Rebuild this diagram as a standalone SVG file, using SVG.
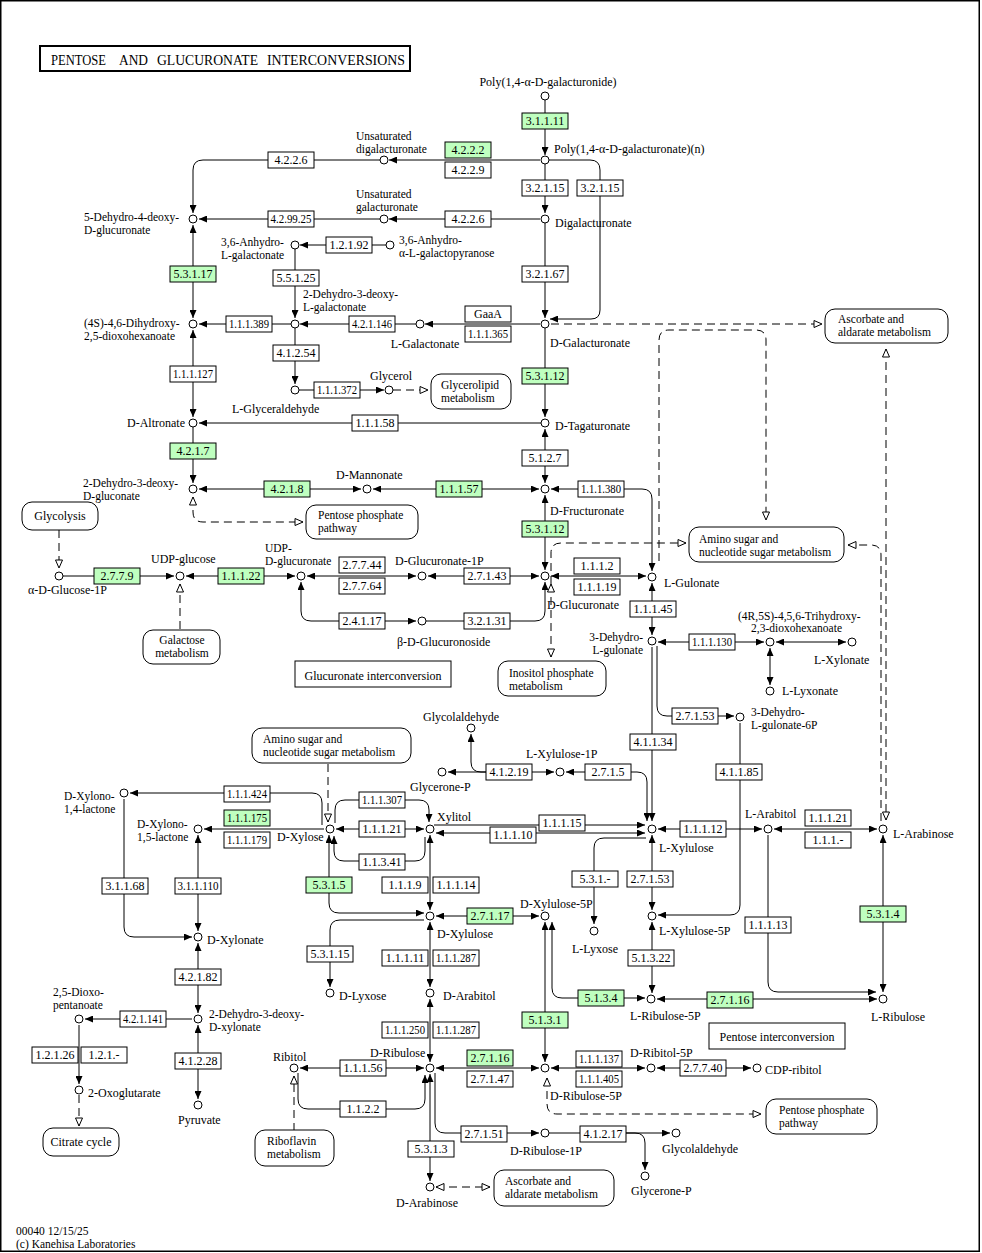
<svg xmlns="http://www.w3.org/2000/svg" width="982" height="1253" viewBox="0 0 982 1253">
<style>
text{font-family:"Liberation Serif","Times New Roman",serif;font-size:12px;fill:#000}
.ml{font-size:11.5px}
.e rect{fill:#fff;stroke:#000;stroke-width:1}
.g rect{fill:#bfffbf}
.e text{text-anchor:middle}
.c circle{fill:#fff;stroke:#000;stroke-width:1}
.m rect{fill:#fff;stroke:#000;stroke-width:1}
.ln path{fill:none;stroke:#000;stroke-width:1}
.ln .d{stroke-dasharray:8,5}
.f{marker-end:url(#a)}
.b{marker-start:url(#a);marker-end:url(#a)}
.of{marker-end:url(#o)}
.ob{marker-start:url(#o);marker-end:url(#o)}
.mid{text-anchor:middle}
.end{text-anchor:end}
.tt{font-size:14.5px}
</style>
<defs>
<marker id="a" viewBox="0 0 8 7" refX="8" refY="3.5" markerWidth="8" markerHeight="7" markerUnits="userSpaceOnUse" orient="auto-start-reverse"><path d="M0,0L8,3.5L0,7z" fill="#000"/></marker>
<marker id="o" viewBox="-1 -1 10 9" refX="8" refY="3.5" markerWidth="10" markerHeight="9" markerUnits="userSpaceOnUse" orient="auto-start-reverse"><path d="M0,0L8,3.5L0,7z" fill="#fff" stroke="#000" stroke-width="1"/></marker>
</defs>
<rect x="0.75" y="0.75" width="978.5" height="1250.5" fill="#fff" stroke="#000" stroke-width="1.5"/>
<g id="title"><rect x="40" y="46" width="370" height="25" fill="#fff" stroke="#000" stroke-width="2"/>
<text class="tt" x="51" y="65" textLength="55" lengthAdjust="spacingAndGlyphs">PENTOSE</text>
<text class="tt" x="119" y="65" textLength="29" lengthAdjust="spacingAndGlyphs">AND</text>
<text class="tt" x="157" y="65" textLength="101" lengthAdjust="spacingAndGlyphs">GLUCURONATE</text>
<text class="tt" x="267" y="65" textLength="138" lengthAdjust="spacingAndGlyphs">INTERCONVERSIONS</text></g>

<g id="connectors" class="ln">
<path class="f" d="M545,100V155"/>
<path class="f" d="M540,160H389"/>
<path class="f" d="M380,160H203Q193,160 193,170V213"/>
<path class="f" d="M549,160H590Q600,160 600,170V310Q600,319 591,319H550"/>
<path class="f" d="M545,164V213"/>
<path class="f" d="M540,219H389"/>
<path class="f" d="M380,219H199"/>
<path class="f" d="M386,245H300"/>
<path class="b" d="M193,225V318"/>
<path class="f" d="M295,249V318"/>
<path class="f" d="M545,223V318"/>
<path class="f" d="M540,324H425"/>
<path class="f" d="M416,324H300"/>
<path class="f" d="M291,324H199"/>
<path class="f" d="M295,328V384"/>
<path class="f" d="M299,390H384"/>
<path class="d of" d="M393,390H428"/>
<path class="b" d="M193,330V417"/>
<path class="f" d="M545,328V417"/>
<path class="f" d="M541,423H199"/>
<path class="f" d="M193,427V483"/>
<path class="b" d="M545,429V483"/>
<path class="b" d="M539,489H373"/>
<path class="b" d="M361,489H199"/>
<path class="b" d="M551,489H642Q652,489 652,499V571"/>
<path class="b" d="M545,495V570"/>
<path class="d ob" d="M193,497V512Q193,522 203,522H303"/>
<path class="b" d="M551,576H646"/>
<path class="b" d="M428,576H539"/>
<path class="b" d="M416,576H307"/>
<path class="b" d="M295,576H186"/>
<path class="f" d="M63,576H174"/>
<path class="d of" d="M59,530V568"/>
<path class="d of" d="M180,629V584"/>
<path class="b" d="M301,582V611Q301,621 311,621H416"/>
<path class="f" d="M426,621H535Q545,621 545,611V582"/>
<path class="d of" d="M551,584V553Q551,543 561,543H686"/>
<path class="d ob" d="M551,584V657"/>
<path class="d of" d="M551,324H822"/>
<path class="d of" d="M659,561V340Q659,330 669,330H756Q766,330 766,340V520"/>
<path class="d of" d="M881,821V555Q881,545 871,545H848"/>
<path class="d ob" d="M886,349V820"/>
<path class="b" d="M652,583V635"/>
<path class="b" d="M658,642H764"/>
<path class="b" d="M776,642H846"/>
<path class="b" d="M770,648V685"/>
<path class="f" d="M657,646V706Q657,716 667,716H734"/>
<path class="f" d="M652,647V821"/>
<path class="f" d="M740,723V905Q740,915 730,915H658"/>
<path class="b" d="M647,821V782Q647,772 637,772H566"/>
<path class="b" d="M554,772H448"/>
<path class="f" d="M500,772H481Q471,772 471,762V734"/>
<path class="b" d="M336,829H424"/>
<path class="f" d="M335,823V810Q335,800 345,800H419Q429,800 429,810V822"/>
<path class="f" d="M425,837V851Q425,861 415,861H344Q334,861 334,851V836"/>
<path class="f" d="M434,825H645"/>
<path class="b" d="M436,833H645"/>
<path class="f" d="M646,838H604Q594,838 594,848V924"/>
<path class="b" d="M658,829H762"/>
<path class="b" d="M774,829H877"/>
<path class="b" d="M652,835V910"/>
<path class="b" d="M883,835V992"/>
<path class="f" d="M768,835V982Q768,992 778,992H876"/>
<path class="b" d="M652,922V993"/>
<path class="b" d="M657,999H877"/>
<path class="b" d="M645,998H562Q552,998 552,988V922"/>
<path class="b" d="M545,922V1062"/>
<path class="b" d="M436,916H539"/>
<path class="b" d="M430,835V910"/>
<path class="b" d="M329,835V903Q329,913 339,913H424"/>
<path class="f" d="M424,920H340Q330,920 330,930V987"/>
<path class="b" d="M430,922V987"/>
<path class="b" d="M430,999V1062"/>
<path class="b" d="M436,1068H539"/>
<path class="b" d="M551,1068H645"/>
<path class="b" d="M657,1068H751"/>
<path class="b" d="M300,1068H424"/>
<path class="f" d="M298,1073V1099Q298,1109 308,1109H415Q425,1109 425,1099V1075"/>
<path class="d of" d="M294,1131V1076"/>
<path class="b" d="M430,1074V1181"/>
<path class="f" d="M435,1073V1123Q435,1133 445,1133H539"/>
<path class="f" d="M549,1133H670"/>
<path class="f" d="M626,1133H635Q645,1133 645,1143V1170"/>
<path class="d ob" d="M436,1187H490"/>
<path class="d ob" d="M547,1078V1104Q547,1114 557,1114H761"/>
<path class="f" d="M192,1019H85"/>
<path class="f" d="M79,1025V1084"/>
<path class="d of" d="M79,1095V1126"/>
<path class="b" d="M198,1025V1099"/>
<path class="b" d="M198,943V1013"/>
<path class="b" d="M198,835V931"/>
<path class="f" d="M124,799V927Q124,937 134,937H192"/>
<path class="f" d="M324,829H204"/>
<path class="f" d="M322,825V803Q322,793 312,793H130"/>
<path class="d of" d="M328,764V822"/>
</g>

<g id="enzymes">
<g id="e1" class="e g"><rect x="522" y="113" width="46" height="16"/><text x="545" y="125">3.1.1.11</text></g>
<g id="e2" class="e g"><rect x="445" y="142" width="46" height="16"/><text x="468" y="154">4.2.2.2</text></g>
<g id="e3" class="e"><rect x="445" y="162" width="46" height="16"/><text x="468" y="174">4.2.2.9</text></g>
<g id="e4" class="e"><rect x="268" y="152" width="46" height="16"/><text x="291" y="164">4.2.2.6</text></g>
<g id="e5" class="e"><rect x="522" y="180" width="46" height="16"/><text x="545" y="192">3.2.1.15</text></g>
<g id="e6" class="e"><rect x="577" y="180" width="46" height="16"/><text x="600" y="192">3.2.1.15</text></g>
<g id="e7" class="e"><rect x="445" y="211" width="46" height="16"/><text x="468" y="223">4.2.2.6</text></g>
<g id="e8" class="e"><rect x="268" y="211" width="46" height="16"/><text x="291" y="223" textLength="41" lengthAdjust="spacingAndGlyphs">4.2.99.25</text></g>
<g id="e9" class="e"><rect x="326" y="237" width="46" height="16"/><text x="349" y="249">1.2.1.92</text></g>
<g id="e10" class="e g"><rect x="170" y="266" width="46" height="16"/><text x="193" y="278">5.3.1.17</text></g>
<g id="e11" class="e"><rect x="273" y="270" width="46" height="16"/><text x="296" y="282">5.5.1.25</text></g>
<g id="e12" class="e"><rect x="522" y="266" width="46" height="16"/><text x="545" y="278">3.2.1.67</text></g>
<g id="e13" class="e"><rect x="465" y="306" width="46" height="16"/><text x="488" y="318">GaaA</text></g>
<g id="e14" class="e"><rect x="465" y="326" width="46" height="16"/><text x="488" y="338" textLength="40" lengthAdjust="spacingAndGlyphs">1.1.1.365</text></g>
<g id="e15" class="e"><rect x="349" y="316" width="46" height="16"/><text x="372" y="328" textLength="40" lengthAdjust="spacingAndGlyphs">4.2.1.146</text></g>
<g id="e16" class="e"><rect x="226" y="316" width="46" height="16"/><text x="249" y="328" textLength="40" lengthAdjust="spacingAndGlyphs">1.1.1.389</text></g>
<g id="e17" class="e"><rect x="273" y="345" width="46" height="16"/><text x="296" y="357">4.1.2.54</text></g>
<g id="e18" class="e"><rect x="314" y="382" width="46" height="16"/><text x="337" y="394" textLength="40" lengthAdjust="spacingAndGlyphs">1.1.1.372</text></g>
<g id="e19" class="e"><rect x="170" y="366" width="46" height="16"/><text x="193" y="378" textLength="40" lengthAdjust="spacingAndGlyphs">1.1.1.127</text></g>
<g id="e20" class="e g"><rect x="522" y="368" width="46" height="16"/><text x="545" y="380">5.3.1.12</text></g>
<g id="e21" class="e"><rect x="352" y="415" width="46" height="16"/><text x="375" y="427">1.1.1.58</text></g>
<g id="e22" class="e g"><rect x="170" y="443" width="46" height="16"/><text x="193" y="455">4.2.1.7</text></g>
<g id="e23" class="e"><rect x="522" y="450" width="46" height="16"/><text x="545" y="462">5.1.2.7</text></g>
<g id="e24" class="e g"><rect x="264" y="481" width="46" height="16"/><text x="287" y="493">4.2.1.8</text></g>
<g id="e25" class="e g"><rect x="436" y="481" width="46" height="16"/><text x="459" y="493">1.1.1.57</text></g>
<g id="e26" class="e"><rect x="578" y="481" width="46" height="16"/><text x="601" y="493" textLength="40" lengthAdjust="spacingAndGlyphs">1.1.1.380</text></g>
<g id="e27" class="e g"><rect x="522" y="521" width="46" height="16"/><text x="545" y="533">5.3.1.12</text></g>
<g id="e28" class="e g"><rect x="94" y="568" width="46" height="16"/><text x="117" y="580">2.7.7.9</text></g>
<g id="e29" class="e g"><rect x="218" y="568" width="46" height="16"/><text x="241" y="580">1.1.1.22</text></g>
<g id="e30" class="e"><rect x="339" y="557" width="46" height="16"/><text x="362" y="569">2.7.7.44</text></g>
<g id="e31" class="e"><rect x="339" y="578" width="46" height="16"/><text x="362" y="590">2.7.7.64</text></g>
<g id="e32" class="e"><rect x="464" y="568" width="46" height="16"/><text x="487" y="580">2.7.1.43</text></g>
<g id="e33" class="e"><rect x="574" y="558" width="46" height="16"/><text x="597" y="570">1.1.1.2</text></g>
<g id="e34" class="e"><rect x="574" y="579" width="46" height="16"/><text x="597" y="591">1.1.1.19</text></g>
<g id="e35" class="e"><rect x="339" y="613" width="46" height="16"/><text x="362" y="625">2.4.1.17</text></g>
<g id="e36" class="e"><rect x="464" y="613" width="46" height="16"/><text x="487" y="625">3.2.1.31</text></g>
<g id="e37" class="e"><rect x="630" y="601" width="46" height="16"/><text x="653" y="613">1.1.1.45</text></g>
<g id="e38" class="e"><rect x="689" y="634" width="46" height="16"/><text x="712" y="646" textLength="40" lengthAdjust="spacingAndGlyphs">1.1.1.130</text></g>
<g id="e39" class="e"><rect x="672" y="708" width="46" height="16"/><text x="695" y="720">2.7.1.53</text></g>
<g id="e40" class="e"><rect x="630" y="734" width="46" height="16"/><text x="653" y="746">4.1.1.34</text></g>
<g id="e41" class="e"><rect x="716" y="764" width="46" height="16"/><text x="739" y="776">4.1.1.85</text></g>
<g id="e42" class="e"><rect x="486" y="764" width="46" height="16"/><text x="509" y="776">4.1.2.19</text></g>
<g id="e43" class="e"><rect x="585" y="764" width="46" height="16"/><text x="608" y="776">2.7.1.5</text></g>
<g id="e44" class="e"><rect x="224" y="786" width="46" height="16"/><text x="247" y="798" textLength="40" lengthAdjust="spacingAndGlyphs">1.1.1.424</text></g>
<g id="e45" class="e g"><rect x="224" y="810" width="46" height="16"/><text x="247" y="822" textLength="40" lengthAdjust="spacingAndGlyphs">1.1.1.175</text></g>
<g id="e46" class="e"><rect x="224" y="832" width="46" height="16"/><text x="247" y="844" textLength="40" lengthAdjust="spacingAndGlyphs">1.1.1.179</text></g>
<g id="e47" class="e"><rect x="359" y="792" width="46" height="16"/><text x="382" y="804" textLength="40" lengthAdjust="spacingAndGlyphs">1.1.1.307</text></g>
<g id="e48" class="e"><rect x="359" y="821" width="46" height="16"/><text x="382" y="833">1.1.1.21</text></g>
<g id="e49" class="e"><rect x="359" y="854" width="46" height="16"/><text x="382" y="866">1.1.3.41</text></g>
<g id="e50" class="e"><rect x="539" y="815" width="46" height="16"/><text x="562" y="827">1.1.1.15</text></g>
<g id="e51" class="e"><rect x="490" y="827" width="46" height="16"/><text x="513" y="839">1.1.1.10</text></g>
<g id="e52" class="e"><rect x="680" y="821" width="46" height="16"/><text x="703" y="833">1.1.1.12</text></g>
<g id="e53" class="e"><rect x="805" y="810" width="46" height="16"/><text x="828" y="822">1.1.1.21</text></g>
<g id="e54" class="e"><rect x="805" y="832" width="46" height="16"/><text x="828" y="844">1.1.1.-</text></g>
<g id="e55" class="e"><rect x="102" y="878" width="46" height="16"/><text x="125" y="890">3.1.1.68</text></g>
<g id="e56" class="e"><rect x="175" y="878" width="46" height="16"/><text x="198" y="890" textLength="41" lengthAdjust="spacingAndGlyphs">3.1.1.110</text></g>
<g id="e57" class="e g"><rect x="306" y="877" width="46" height="16"/><text x="329" y="889">5.3.1.5</text></g>
<g id="e58" class="e"><rect x="382" y="877" width="46" height="16"/><text x="405" y="889">1.1.1.9</text></g>
<g id="e59" class="e"><rect x="433" y="877" width="46" height="16"/><text x="456" y="889">1.1.1.14</text></g>
<g id="e60" class="e"><rect x="572" y="871" width="46" height="16"/><text x="595" y="883">5.3.1.-</text></g>
<g id="e61" class="e"><rect x="627" y="871" width="46" height="16"/><text x="650" y="883">2.7.1.53</text></g>
<g id="e62" class="e g"><rect x="467" y="908" width="46" height="16"/><text x="490" y="920">2.7.1.17</text></g>
<g id="e63" class="e g"><rect x="860" y="906" width="46" height="16"/><text x="883" y="918">5.3.1.4</text></g>
<g id="e64" class="e"><rect x="745" y="917" width="46" height="16"/><text x="768" y="929">1.1.1.13</text></g>
<g id="e65" class="e"><rect x="307" y="946" width="46" height="16"/><text x="330" y="958">5.3.1.15</text></g>
<g id="e66" class="e"><rect x="382" y="950" width="46" height="16"/><text x="405" y="962">1.1.1.11</text></g>
<g id="e67" class="e"><rect x="433" y="950" width="46" height="16"/><text x="456" y="962" textLength="40" lengthAdjust="spacingAndGlyphs">1.1.1.287</text></g>
<g id="e68" class="e"><rect x="628" y="950" width="46" height="16"/><text x="651" y="962">5.1.3.22</text></g>
<g id="e69" class="e"><rect x="175" y="969" width="46" height="16"/><text x="198" y="981">4.2.1.82</text></g>
<g id="e70" class="e g"><rect x="578" y="990" width="46" height="16"/><text x="601" y="1002">5.1.3.4</text></g>
<g id="e71" class="e g"><rect x="707" y="992" width="46" height="16"/><text x="730" y="1004">2.7.1.16</text></g>
<g id="e72" class="e g"><rect x="522" y="1012" width="46" height="16"/><text x="545" y="1024">5.1.3.1</text></g>
<g id="e73" class="e"><rect x="120" y="1011" width="46" height="16"/><text x="143" y="1023" textLength="40" lengthAdjust="spacingAndGlyphs">4.2.1.141</text></g>
<g id="e74" class="e"><rect x="382" y="1022" width="46" height="16"/><text x="405" y="1034" textLength="40" lengthAdjust="spacingAndGlyphs">1.1.1.250</text></g>
<g id="e75" class="e"><rect x="433" y="1022" width="46" height="16"/><text x="456" y="1034" textLength="40" lengthAdjust="spacingAndGlyphs">1.1.1.287</text></g>
<g id="e76" class="e"><rect x="32" y="1047" width="46" height="16"/><text x="55" y="1059">1.2.1.26</text></g>
<g id="e77" class="e"><rect x="81" y="1047" width="46" height="16"/><text x="104" y="1059">1.2.1.-</text></g>
<g id="e78" class="e"><rect x="175" y="1053" width="46" height="16"/><text x="198" y="1065">4.1.2.28</text></g>
<g id="e79" class="e"><rect x="340" y="1060" width="46" height="16"/><text x="363" y="1072">1.1.1.56</text></g>
<g id="e80" class="e g"><rect x="467" y="1050" width="46" height="16"/><text x="490" y="1062">2.7.1.16</text></g>
<g id="e81" class="e"><rect x="467" y="1071" width="46" height="16"/><text x="490" y="1083">2.7.1.47</text></g>
<g id="e82" class="e"><rect x="576" y="1051" width="46" height="16"/><text x="599" y="1063" textLength="40" lengthAdjust="spacingAndGlyphs">1.1.1.137</text></g>
<g id="e83" class="e"><rect x="576" y="1071" width="46" height="16"/><text x="599" y="1083" textLength="40" lengthAdjust="spacingAndGlyphs">1.1.1.405</text></g>
<g id="e84" class="e"><rect x="680" y="1060" width="46" height="16"/><text x="703" y="1072">2.7.7.40</text></g>
<g id="e85" class="e"><rect x="340" y="1101" width="46" height="16"/><text x="363" y="1113">1.1.2.2</text></g>
<g id="e86" class="e"><rect x="408" y="1141" width="46" height="16"/><text x="431" y="1153">5.3.1.3</text></g>
<g id="e87" class="e"><rect x="461" y="1126" width="46" height="16"/><text x="484" y="1138">2.7.1.51</text></g>
<g id="e88" class="e"><rect x="580" y="1126" width="46" height="16"/><text x="603" y="1138">4.1.2.17</text></g>
</g>

<g id="compounds" class="c">
<g id="c1"><circle cx="545" cy="96" r="4"/><text x="548" y="86" class="mid">Poly(1,4-α-D-galacturonide)</text></g>
<g id="c2"><circle cx="545" cy="160" r="4"/><text x="554" y="153">Poly(1,4-α-D-galacturonate)(n)</text></g>
<g id="c3"><circle cx="384" cy="160" r="4"/><text class="ml" x="356" y="140">Unsaturated<tspan x="356" dy="13">digalacturonate</tspan></text></g>
<g id="c4"><circle cx="545" cy="219" r="4"/><text x="555" y="227">Digalacturonate</text></g>
<g id="c5"><circle cx="384" cy="219" r="4"/><text class="ml" x="356" y="198">Unsaturated<tspan x="356" dy="13">galacturonate</tspan></text></g>
<g id="c6"><circle cx="193" cy="219" r="4"/><text class="ml" x="84" y="221">5-Dehydro-4-deoxy-<tspan x="84" dy="13">D-glucuronate</tspan></text></g>
<g id="c7"><circle cx="295" cy="245" r="4"/><text class="ml" x="221" y="246">3,6-Anhydro-<tspan x="221" dy="13">L-galactonate</tspan></text></g>
<g id="c8"><circle cx="390" cy="245" r="4"/><text class="ml" x="399" y="244">3,6-Anhydro-<tspan x="399" dy="13">α-L-galactopyranose</tspan></text></g>
<g id="c9"><circle cx="295" cy="324" r="4"/><text class="ml" x="303" y="298">2-Dehydro-3-deoxy-<tspan x="303" dy="13">L-galactonate</tspan></text></g>
<g id="c10"><circle cx="193" cy="324" r="4"/><text class="ml" x="84" y="327">(4S)-4,6-Dihydroxy-<tspan x="84" dy="13">2,5-dioxohexanoate</tspan></text></g>
<g id="c11"><circle cx="420" cy="324" r="4"/><text x="425" y="348" class="mid">L-Galactonate</text></g>
<g id="c12"><circle cx="545" cy="324" r="4"/><text x="550" y="347">D-Galacturonate</text></g>
<g id="c13"><circle cx="295" cy="390" r="4"/><text x="232" y="413">L-Glyceraldehyde</text></g>
<g id="c14"><circle cx="389" cy="390" r="4"/><text x="370" y="380">Glycerol</text></g>
<g id="c15"><circle cx="193" cy="423" r="4"/><text x="185" y="427" class="end">D-Altronate</text></g>
<g id="c16"><circle cx="545" cy="423" r="4"/><text x="555" y="430">D-Tagaturonate</text></g>
<g id="c17"><circle cx="193" cy="489" r="4"/><text class="ml" x="83" y="487">2-Dehydro-3-deoxy-<tspan x="83" dy="13">D-gluconate</tspan></text></g>
<g id="c18"><circle cx="367" cy="489" r="4"/><text x="336" y="479">D-Mannonate</text></g>
<g id="c19"><circle cx="545" cy="489" r="4"/><text x="550" y="515">D-Fructuronate</text></g>
<g id="c20"><circle cx="545" cy="576" r="4"/><text x="547" y="609">D-Glucuronate</text></g>
<g id="c21"><circle cx="422" cy="576" r="4"/><text x="395" y="565">D-Glucuronate-1P</text></g>
<g id="c22"><circle cx="301" cy="576" r="4"/><text class="ml" x="265" y="552">UDP-<tspan x="265" dy="13">D-glucuronate</tspan></text></g>
<g id="c23"><circle cx="180" cy="576" r="4"/><text x="151" y="563">UDP-glucose</text></g>
<g id="c24"><circle cx="59" cy="576" r="4"/><text x="28" y="594">α-D-Glucose-1P</text></g>
<g id="c25"><circle cx="422" cy="621" r="4"/><text x="397" y="646">β-D-Glucuronoside</text></g>
<g id="c26"><circle cx="652" cy="577" r="4"/><text x="664" y="587">L-Gulonate</text></g>
<g id="c27"><circle cx="652" cy="641" r="4"/><text class="ml end" x="643" y="641">3-Dehydro-<tspan x="643" dy="13">L-gulonate</tspan></text></g>
<g id="c28"><circle cx="770" cy="642" r="4"/><text class="ml" x="738" y="620">(4R,5S)-4,5,6-Trihydroxy-<tspan x="751" dy="12">2,3-dioxohexanoate</tspan></text></g>
<g id="c29"><circle cx="852" cy="642" r="4"/><text x="814" y="664">L-Xylonate</text></g>
<g id="c30"><circle cx="770" cy="691" r="4"/><text x="782" y="695">L-Lyxonate</text></g>
<g id="c31"><circle cx="740" cy="717" r="4"/><text class="ml" x="751" y="716">3-Dehydro-<tspan x="751" dy="13">L-gulonate-6P</tspan></text></g>
<g id="c32"><circle cx="471" cy="728" r="4"/><text x="423" y="721">Glycolaldehyde</text></g>
<g id="c33"><circle cx="442" cy="772" r="4"/><text x="410" y="791">Glycerone-P</text></g>
<g id="c34"><circle cx="560" cy="772" r="4"/><text x="526" y="758">L-Xylulose-1P</text></g>
<g id="c35"><circle cx="430" cy="829" r="4"/><text x="437" y="821">Xylitol</text></g>
<g id="c36"><circle cx="330" cy="829" r="4"/><text x="277" y="841">D-Xylose</text></g>
<g id="c37"><circle cx="652" cy="829" r="4"/><text x="659" y="852">L-Xylulose</text></g>
<g id="c38"><circle cx="768" cy="829" r="4"/><text x="745" y="818">L-Arabitol</text></g>
<g id="c39"><circle cx="883" cy="829" r="4"/><text x="893" y="838">L-Arabinose</text></g>
<g id="c40"><circle cx="124" cy="793" r="4"/><text class="ml" x="64" y="800">D-Xylono-<tspan x="64" dy="13">1,4-lactone</tspan></text></g>
<g id="c41"><circle cx="198" cy="829" r="4"/><text class="ml" x="137" y="828">D-Xylono-<tspan x="137" dy="13">1,5-lactone</tspan></text></g>
<g id="c42"><circle cx="198" cy="937" r="4"/><text x="207" y="944">D-Xylonate</text></g>
<g id="c43"><circle cx="430" cy="916" r="4"/><text x="437" y="938">D-Xylulose</text></g>
<g id="c44"><circle cx="545" cy="916" r="4"/><text x="520" y="908">D-Xylulose-5P</text></g>
<g id="c45"><circle cx="594" cy="931" r="4"/><text x="572" y="953">L-Lyxose</text></g>
<g id="c46"><circle cx="652" cy="916" r="4"/><text x="659" y="935">L-Xylulose-5P</text></g>
<g id="c47"><circle cx="330" cy="993" r="4"/><text x="339" y="1000">D-Lyxose</text></g>
<g id="c48"><circle cx="430" cy="993" r="4"/><text x="443" y="1000">D-Arabitol</text></g>
<g id="c49"><circle cx="651" cy="999" r="4"/><text x="630" y="1020">L-Ribulose-5P</text></g>
<g id="c50"><circle cx="883" cy="999" r="4"/><text x="871" y="1021">L-Ribulose</text></g>
<g id="c51"><circle cx="198" cy="1019" r="4"/><text class="ml" x="209" y="1018">2-Dehydro-3-deoxy-<tspan x="209" dy="13">D-xylonate</tspan></text></g>
<g id="c52"><circle cx="79" cy="1019" r="4"/><text class="ml" x="53" y="996">2,5-Dioxo-<tspan x="53" dy="13">pentanoate</tspan></text></g>
<g id="c53"><circle cx="79" cy="1090" r="4"/><text x="88" y="1097">2-Oxoglutarate</text></g>
<g id="c54"><circle cx="198" cy="1105" r="4"/><text x="178" y="1124">Pyruvate</text></g>
<g id="c55"><circle cx="294" cy="1068" r="4"/><text x="273" y="1061">Ribitol</text></g>
<g id="c56"><circle cx="430" cy="1068" r="4"/><text x="370" y="1057">D-Ribulose</text></g>
<g id="c57"><circle cx="545" cy="1068" r="4"/><text x="550" y="1100">D-Ribulose-5P</text></g>
<g id="c58"><circle cx="651" cy="1068" r="4"/><text x="630" y="1057">D-Ribitol-5P</text></g>
<g id="c59"><circle cx="757" cy="1068" r="4"/><text x="765" y="1074">CDP-ribitol</text></g>
<g id="c60"><circle cx="430" cy="1187" r="4"/><text x="396" y="1207">D-Arabinose</text></g>
<g id="c61"><circle cx="545" cy="1133" r="4"/><text x="510" y="1155">D-Ribulose-1P</text></g>
<g id="c62"><circle cx="676" cy="1133" r="4"/><text x="662" y="1153">Glycolaldehyde</text></g>
<g id="c63"><circle cx="645" cy="1176" r="4"/><text x="631" y="1195">Glycerone-P</text></g>
</g>

<g id="maps" class="m">
<g id="m1"><rect x="431" y="374" width="80" height="35" rx="10"/><text class="ml" x="441" y="389">Glycerolipid<tspan x="441" dy="13">metabolism</tspan></text></g>
<g id="m2"><rect x="306" y="505" width="112" height="34" rx="10"/><text class="ml" x="318" y="519">Pentose phosphate<tspan x="318" dy="13">pathway</tspan></text></g>
<g id="m3"><rect x="22" y="502" width="76" height="28" rx="10"/><text x="60" y="520" class="mid">Glycolysis</text></g>
<g id="m4"><rect x="143" y="630" width="77" height="34" rx="10"/><text class="ml mid" x="182" y="644">Galactose<tspan x="182" dy="13">metabolism</tspan></text></g>
<g id="m5"><rect x="825" y="309" width="123" height="34" rx="10"/><text class="ml" x="838" y="323">Ascorbate and<tspan x="838" dy="13">aldarate metabolism</tspan></text></g>
<g id="m6"><rect x="689" y="527" width="155" height="35" rx="10"/><text class="ml" x="699" y="543">Amino sugar and<tspan x="699" dy="13">nucleotide sugar metabolism</tspan></text></g>
<g id="m7"><rect x="498" y="661" width="108" height="35" rx="10"/><text class="ml" x="509" y="677">Inositol phosphate<tspan x="509" dy="13">metabolism</tspan></text></g>
<g id="m8"><rect x="252" y="728" width="159" height="35" rx="10"/><text class="ml" x="263" y="743">Amino sugar and<tspan x="263" dy="13">nucleotide sugar metabolism</tspan></text></g>
<g id="m9"><rect x="43" y="1128" width="76" height="28" rx="10"/><text x="81" y="1146" class="mid">Citrate cycle</text></g>
<g id="m10"><rect x="255" y="1130" width="79" height="36" rx="10"/><text class="ml" x="267" y="1145">Riboflavin<tspan x="267" dy="13">metabolism</tspan></text></g>
<g id="m11"><rect x="494" y="1170" width="120" height="36" rx="10"/><text class="ml" x="505" y="1185">Ascorbate and<tspan x="505" dy="13">aldarate metabolism</tspan></text></g>
<g id="m12"><rect x="766" y="1099" width="111" height="35" rx="10"/><text class="ml" x="779" y="1114">Pentose phosphate<tspan x="779" dy="13">pathway</tspan></text></g>
</g>

<g id="labels">
<rect x="295" y="661" width="156" height="26" fill="#fff" stroke="#000"/><text x="373" y="680" class="mid">Glucuronate interconversion</text>
<rect x="709" y="1023" width="136" height="26" fill="#fff" stroke="#000"/><text x="777" y="1041" class="mid">Pentose interconversion</text>
<text class="ml" x="16" y="1235">00040 12/15/25<tspan x="16" dy="13">(c) Kanehisa Laboratories</tspan></text>
</g>
</svg>
